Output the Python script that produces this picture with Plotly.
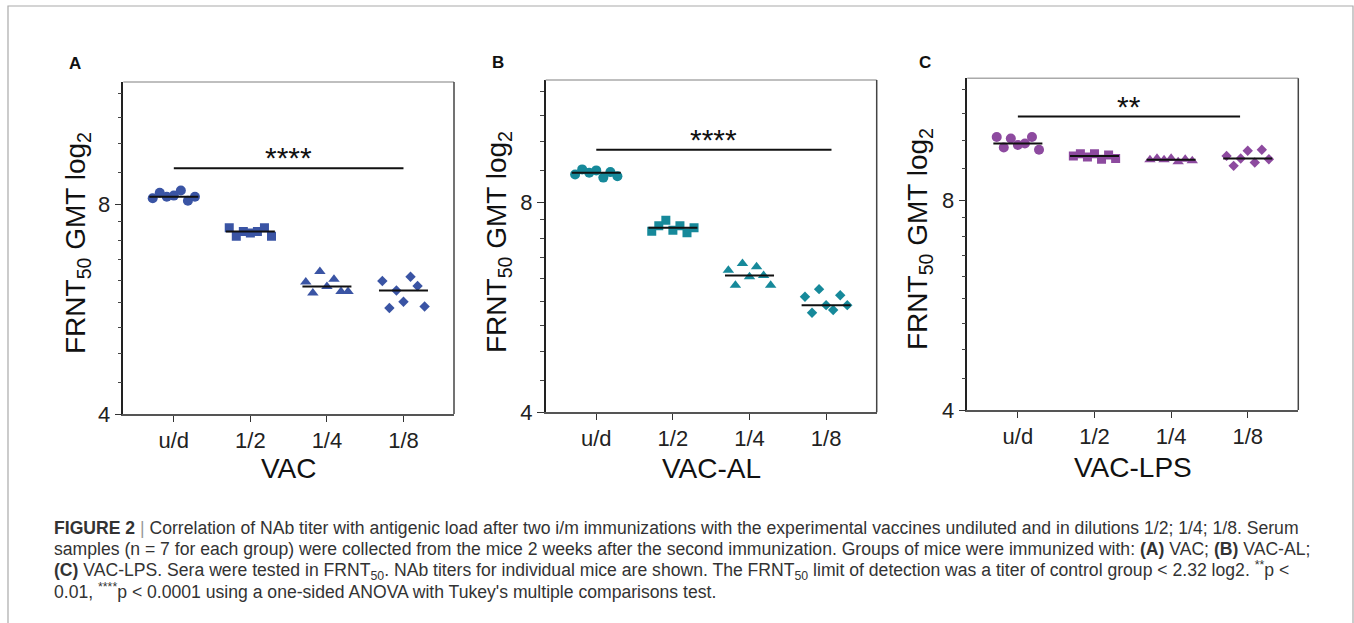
import numpy as np
import plotly.graph_objects as go

# ---------------- data ----------------
categories = ["u/d", "1/2", "1/4", "1/8"]
panel_titles = ["VAC", "VAC-AL", "VAC-LPS"]
panel_letters = ["A", "B", "C"]

# FRNT50 values per mouse (listed left-to-right as drawn)
vac_ud = [8.17, 8.32, 8.21, 8.24, 8.38, 8.10, 8.21]
vac_half = [7.41, 7.20, 7.32, 7.28, 7.32, 7.41, 7.20]
vac_quarter = [6.19, 5.97, 6.41, 6.10, 6.25, 6.00, 6.00]
vac_eighth = [6.21, 5.68, 6.02, 5.80, 6.30, 6.11, 5.71]

al_ud = [8.78, 8.93, 8.83, 8.90, 8.69, 8.85, 8.73]
al_half = [7.28, 7.41, 7.55, 7.30, 7.41, 7.24, 7.36]
al_quarter = [6.40, 6.09, 6.54, 6.26, 6.47, 6.29, 6.09]
al_eighth = [5.86, 5.56, 6.01, 5.70, 5.61, 5.89, 5.70]

lps_ud = [9.88, 9.54, 9.83, 9.62, 9.67, 9.88, 9.47]
lps_half = [9.28, 9.35, 9.25, 9.35, 9.18, 9.31, 9.20]
lps_quarter = [9.16, 9.21, 9.16, 9.21, 9.10, 9.18, 9.13]
lps_eighth = [9.28, 8.98, 9.20, 9.44, 9.08, 9.47, 9.18]

sig_labels = ["****", "****", "**"]
sig_levels = [9.02, 9.53, 10.57]

y_tick_vals = [4, 8]

panels_data = [
    [vac_ud, vac_half, vac_quarter, vac_eighth],
    [al_ud, al_half, al_quarter, al_eighth],
    [lps_ud, lps_half, lps_quarter, lps_eighth],
]

# ---------------- style / layout ----------------
W, H = 1354, 623          # design coordinates (reference pixels)
H_LAYOUT = 636            # page height actually laid out
colors = ["#3a54a4", "#16899a", "#8d4a9f"]
symbols = ["circle", "square", "triangle-up", "diamond"]
sizes = [10, 9, 10, 8]
# plot areas in pixels: (left, right, top, bottom)
boxes = [(123.3, 454.0, 82.0, 414.0),
         (545.7, 876.7, 80.0, 412.3),
         (967.3, 1298.3, 78.3, 410.0)]
sig_spans = [(0, 3), (0, 3.07), (0, 2.9)]
ytitle_pos = [(77, 243), (498, 242), (920, 239)]
xtitle_y = [468, 468, 467]
letter_pos = [(75, 63), (498, 62), (925, 62)]
spread = 0.092
FONT = "Liberation Sans, Arial, Helvetica, sans-serif"

minor_vals = [4 + k * 4 / 9 for k in range(1, 9)] + [8 + k * 8 / 9 for k in range(1, 5)]

fig = go.Figure()
annotations = []
shapes = []

def px(x):
    return x / W

def py(y):
    return 1 - y / H

for p in range(3):
    ax = "" if p == 0 else str(p + 1)
    xref, yref = "x" + ax, "y" + ax
    for g, vals in enumerate(panels_data[p]):
        n = len(vals)
        xs = [g + (j - (n - 1) / 2) * spread for j in range(n)]
        fig.add_trace(go.Scatter(
            x=xs, y=vals, mode="markers", xaxis=xref, yaxis=yref,
            marker=dict(symbol=symbols[g], size=sizes[g], color=colors[p],
                        line=dict(width=0)),
            showlegend=False, hoverinfo="skip"))
        med = float(np.median(vals))
        fig.add_trace(go.Scatter(
            x=[g - 0.32, g + 0.32], y=[med, med], mode="lines",
            xaxis=xref, yaxis=yref, line=dict(color="#111", width=2),
            showlegend=False, hoverinfo="skip"))
    # significance bar
    x0, x1 = sig_spans[p]
    fig.add_trace(go.Scatter(
        x=[x0, x1], y=[sig_levels[p], sig_levels[p]], mode="lines",
        xaxis=xref, yaxis=yref, line=dict(color="#111", width=2),
        showlegend=False, hoverinfo="skip"))
    annotations.append(dict(
        x=(x0 + x1) / 2, y=np.log10(sig_levels[p]), xref=xref, yref=yref,
        text=sig_labels[p], showarrow=False, yanchor="bottom", yshift=-8,
        font=dict(family=FONT, size=30, color="#111")))

    l, r, t, b = boxes[p]
    xa = dict(domain=[px(l), px(r)], range=[-0.66, 3.66],
              tickvals=list(range(4)), ticktext=categories,
              ticks="outside", ticklen=6, tickwidth=1.2, tickcolor="#333",
              showline=True, linecolor="#555", linewidth=1.5,
              showgrid=False, zeroline=False,
              tickfont=dict(family=FONT, size=22, color="#222"),
              anchor=yref, fixedrange=True)
    ya = dict(domain=[py(b), py(t)], type="log",
              range=[np.log10(4), np.log10(12)],
              tickvals=y_tick_vals, ticktext=[str(v) for v in y_tick_vals],
              ticks="outside", ticklen=7, tickwidth=1.2, tickcolor="#333",
              minor=dict(tickmode="array", tickvals=minor_vals, ticks="outside",
                         ticklen=4, tickwidth=1, tickcolor="#444", showgrid=False),
              showline=True, linecolor="#222", linewidth=1.5,
              showgrid=False, zeroline=False,
              tickfont=dict(family=FONT, size=22, color="#222"),
              anchor=xref, fixedrange=True)
    fig.update_layout(**{"xaxis" + ax: xa, "yaxis" + ax: ya})

    # frame top (light) and right (dark)
    shapes.append(dict(type="line", xref="paper", yref="paper",
                       x0=px(l), x1=px(r), y0=py(t), y1=py(t),
                       line=dict(color="#aaa", width=1.5)))
    shapes.append(dict(type="line", xref="paper", yref="paper",
                       x0=px(r), x1=px(r), y0=py(t), y1=py(b),
                       line=dict(color="#444", width=1.5)))

    tx, ty = ytitle_pos[p]
    annotations.append(dict(
        x=px(tx), y=py(ty), xref="paper", yref="paper", showarrow=False,
        textangle=-90, xanchor="center", yanchor="middle",
        text="FRNT<sub>50</sub> GMT log<sub>2</sub>",
        font=dict(family=FONT, size=28, color="#111")))
    annotations.append(dict(
        x=px((l + r) / 2), y=py(xtitle_y[p]), xref="paper", yref="paper",
        showarrow=False, xanchor="center", yanchor="middle",
        text=panel_titles[p], font=dict(family=FONT, size=28, color="#111")))
    lx, ly = letter_pos[p]
    annotations.append(dict(
        x=px(lx), y=py(ly), xref="paper", yref="paper", showarrow=False,
        xanchor="center", yanchor="middle", text="<b>" + panel_letters[p] + "</b>",
        font=dict(family=FONT, size=17, color="#111")))

# outer figure frame
shapes.append(dict(type="rect", xref="paper", yref="paper",
                   x0=px(8), x1=px(1353), y0=py(680), y1=py(6),
                   line=dict(color="#aaa", width=1.2)))

caption_lines = [
    "<b>FIGURE 2</b> <span style='color:#999'>|</span> Correlation of NAb titer with antigenic load after two i/m immunizations with the experimental vaccines undiluted and in dilutions 1/2; 1/4; 1/8. Serum",
    "samples (n = 7 for each group) were collected from the mice 2 weeks after the second immunization. Groups of mice were immunized with: <b>(A)</b> VAC; <b>(B)</b> VAC-AL;",
    "<b>(C)</b> VAC-LPS. Sera were tested in FRNT<sub>50</sub>. NAb titers for individual mice are shown. The FRNT<sub>50</sub> limit of detection was a titer of control group &lt; 2.32 log2. <sup>**</sup>p &lt;",
    "0.01, <sup>****</sup>p &lt; 0.0001 using a one-sided ANOVA with Tukey's multiple comparisons test.",
]
caption_y = [528, 549, 570, 591]
for line, cy in zip(caption_lines, caption_y):
    annotations.append(dict(
        x=px(52), y=py(cy), xref="paper", yref="paper", showarrow=False,
        xanchor="left", yanchor="middle", align="left", text=line,
        font=dict(family=FONT, size=17.6, color="#333")))

fig.update_layout(
    width=W, height=H_LAYOUT, margin=dict(l=0, r=0, t=0, b=0),
    paper_bgcolor="white", plot_bgcolor="white",
    annotations=annotations, shapes=shapes, showlegend=False,
)

fig.write_html(
    "out.html",
    config={"displayModeBar": False, "responsive": False},
    post_script="document.body.style.margin='0';document.body.style.padding='0';"
                "document.documentElement.style.overflow='hidden';",
)
